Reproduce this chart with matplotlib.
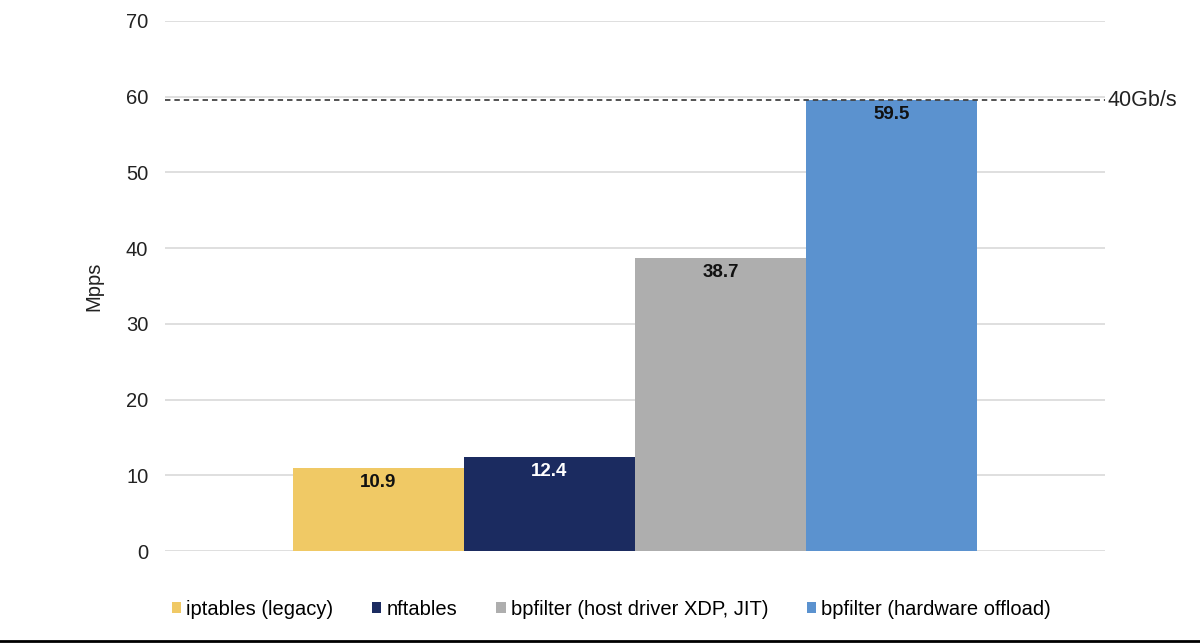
import numpy as np
import matplotlib.pyplot as plt
from matplotlib.lines import Line2D

plt.rcParams['font.family'] = ['Liberation Sans', 'DejaVu Sans']

labels = ['iptables (legacy)', 'nftables', 'bpfilter (host driver XDP, JIT)', 'bpfilter (hardware offload)']
values = [10.9, 12.4, 38.7, 59.5]
colors = ['#F0C965', '#1B2B60', '#AEAEAE', '#5B92CF']
text_colors = ['#111111', 'white', '#111111', '#111111']
line_rate = 59.5
line_label = '40Gb/s'

fig = plt.figure(figsize=(12, 6.44), dpi=100)
ax = fig.add_axes([0.1375, 0.1444, 0.7834, 0.823])

w = 0.182
for i, (lab, v, c, tc) in enumerate(zip(labels, values, colors, text_colors)):
    x = (i - 1.5) * w
    ax.bar(x, v, width=w, color=c, label=lab, zorder=3)
    ax.annotate(f'{v}', (x, v), xytext=(0, -4), textcoords='offset points',
                ha='center', va='top', fontsize=13.5, fontweight='bold', color=tc, zorder=4)

ax.axhline(line_rate, color='#444444', linestyle=(0, (3, 2.2)), linewidth=1.3, zorder=5)
ax.text(1.003, line_rate, line_label, transform=ax.get_yaxis_transform(),
        ha='left', va='center', fontsize=15.5, color='#222222')

ax.set_xlim(-0.5, 0.5)
ax.set_ylim(0, 70)
ax.set_yticks(np.arange(0, 71, 10))
ax.set_xticks([])
ax.yaxis.grid(True, color='#D9D9D9', linewidth=1.2)
ax.set_axisbelow(True)
for s in ax.spines.values():
    s.set_visible(False)
ax.tick_params(axis='y', length=0, labelsize=14.5, labelcolor='#222222', pad=12)
ax.set_ylabel('Mpps', fontsize=14.5, color='#222222', labelpad=16)

ax.legend(loc='upper center', bbox_to_anchor=(0.475, -0.058), ncol=4, frameon=False,
          fontsize=14.5, handlelength=0.45, handleheight=0.45, handletextpad=0.25,
          columnspacing=1.95)

fig.add_artist(Line2D([0, 1], [0.004, 0.004], transform=fig.transFigure, color='black', linewidth=2))

fig.savefig('out.png', dpi=100)
